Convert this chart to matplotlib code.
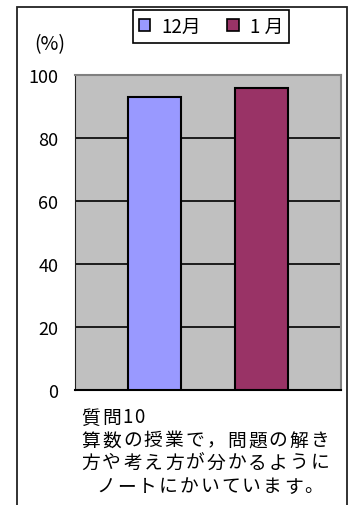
import matplotlib
matplotlib.use('Agg')
import matplotlib.pyplot as plt
from matplotlib.patches import Rectangle
import numpy as np

plt.rcParams['font.family'] = ['Noto Sans CJK JP', 'DejaVu Sans']

months = ['12月', '1 月']
values = [93, 96]
colors = ['#9999FF', '#993366']
yticks = [0, 20, 40, 60, 80, 100]
title_lines = ['質問10', '算数の授業で，問題の解き', '方や考え方が分かるように', 'ノートにかいています。']

W, H = 349, 506
fig = plt.figure(figsize=(W / 100, H / 100), dpi=100)

def fx(x):
    return x / W

def fy(y):
    return 1 - y / H

ax = fig.add_axes([fx(75), fy(391), fx(341) - fx(75), fy(76) - fy(391)])
ax.set_facecolor('#C0C0C0')

pos = np.arange(len(values)) * 2 + 1.5
bars = []
for p, v, c, m in zip(pos, values, colors, months):
    b = ax.bar(p, v, width=1, color=c, edgecolor='black', linewidth=1.5, label=m, zorder=3)
    bars.append(b)

ax.set_xlim(0, 5)
ax.set_ylim(0, 100)
ax.set_yticks(yticks)
ax.set_yticklabels([str(t) for t in yticks], fontsize=13)
ax.set_xticks([])
ax.tick_params(axis='y', length=0, pad=12)
ax.yaxis.grid(True, color='black', linewidth=1.2, zorder=1)
ax.set_axisbelow(True)
ax.spines['left'].set_color('#202020')
ax.spines['bottom'].set_color('black')
ax.spines['bottom'].set_linewidth(1.5)
ax.spines['top'].set_color('#808080')
ax.spines['right'].set_color('#808080')
ax.spines['top'].set_linewidth(1.5)
ax.spines['right'].set_linewidth(1.5)

# outer frame
fig.patches.append(Rectangle((fx(17), -0.02), fx(347) - fx(17), fy(8) + 0.02,
                             transform=fig.transFigure, fill=False,
                             edgecolor='#222222', linewidth=1.3))

leg = fig.legend(handles=[b[0] for b in bars], labels=months, loc='center',
                 bbox_to_anchor=(fx(211), fy(27.5)), bbox_transform=fig.transFigure,
                 ncol=2, fontsize=13.5, handlelength=0.6, handleheight=0.6,
                 handletextpad=0.6, columnspacing=1.4, borderpad=0.15,
                 borderaxespad=0, fancybox=False, framealpha=1, edgecolor='black')
leg.get_frame().set_linewidth(1.2)
for h in leg.legend_handles:
    h.set_linewidth(1.2)
leg.get_frame().set_boxstyle('square', pad=0.15)

fig.text(fx(50), fy(45), '(%)', fontsize=14, ha='center', va='center')

# caption below the chart, laid out with fixed character pitch
pitch = 20.8
starts = [82, 82, 82, 97]
ys = [418, 441, 463, 487]
for line, x0, y in zip(title_lines, starts, ys):
    x = x0
    for ch in line:
        wide = ord(ch) > 0x2000
        step = pitch if wide else pitch * 0.55
        fig.text(fx(x + step / 2 - 1.5), fy(y), ch, fontsize=13.5, ha='center', va='center')
        x += step

fig.savefig('out.png', dpi=100)
